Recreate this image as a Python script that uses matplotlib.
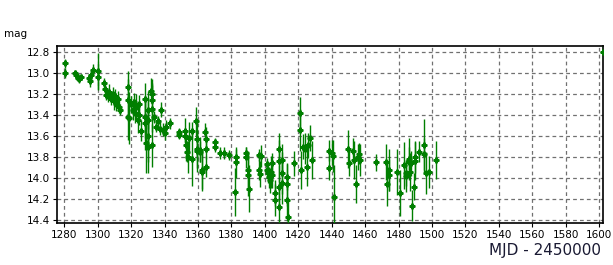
import numpy as np
import matplotlib
matplotlib.use("Agg")
import matplotlib.pyplot as plt

# Light curve: MJD - 2450000, magnitude, error
mjd = [1280.5, 1280.6, 1286.2, 1287.0, 1288.0, 1289.0, 1290.0,
       1295.0, 1295.5, 1296.0, 1297.0, 1300.0, 1300.2,
       1304.0, 1304.3, 1305.0, 1306.0, 1307.0, 1308.0, 1309.0, 1310.0, 1310.5,
       1311.0, 1312.0, 1313.0, 1313.5,
       1318.0, 1318.2, 1318.4, 1318.6,
       1320.0, 1321.0, 1322.0, 1322.5, 1323.0, 1324.0, 1324.5, 1325.0, 1326.0,
       1328.4, 1328.5, 1328.6, 1328.7, 1330.0, 1330.1, 1330.2, 1330.3,
       1332.2, 1332.3, 1332.4, 1332.5, 1332.6,
       1334.0, 1335.0, 1336.0, 1337.0, 1338.0, 1339.0, 1340.0, 1341.0, 1343.0,
       1348.6, 1348.7, 1352.0, 1352.5, 1353.0, 1353.5, 1354.0, 1354.5,
       1356.4, 1356.5, 1359.0, 1359.2, 1359.4, 1359.6, 1361.0, 1361.2,
       1362.5, 1362.7, 1364.5, 1364.6, 1364.7, 1364.8,
       1370.0, 1370.2, 1373.0, 1375.5, 1378.3,
       1382.3, 1382.7, 1383.0, 1388.6, 1388.8, 1390.0, 1390.2, 1390.4,
       1396.6, 1396.8, 1397.0, 1397.5,
       1401.0, 1401.5, 1402.0, 1402.5, 1403.0, 1403.5, 1404.0, 1404.5,
       1406.0, 1406.3, 1408.4, 1408.5, 1408.6, 1408.7, 1410.0, 1410.2, 1410.4,
       1413.3, 1413.4, 1413.5, 1413.6, 1417.5,
       1421.0, 1421.2, 1421.4, 1423.0, 1424.0, 1425.0, 1426.0, 1427.0, 1428.0,
       1438.4, 1438.6, 1440.4, 1440.6, 1441.4,
       1450.0, 1450.2, 1452.9, 1453.1, 1454.5, 1455.5, 1456.2, 1457.0,
       1466.5, 1472.6, 1472.8, 1474.2, 1474.4, 1479.2, 1480.8,
       1483.2, 1484.2, 1484.4, 1486.0, 1486.2, 1487.0, 1487.2,
       1488.2, 1489.2, 1489.8, 1490.0, 1492.2,
       1495.0, 1495.2, 1496.4, 1498.4, 1502.4,
       1602.0]
mag = [12.91, 13.00, 13.00, 13.02, 13.05, 13.06, 13.04,
       13.05, 13.08, 13.02, 12.97, 12.98, 13.04,
       13.10, 13.15, 13.21, 13.22, 13.18, 13.25, 13.20, 13.27, 13.22,
       13.30, 13.25, 13.32, 13.35,
       13.13, 13.26, 13.42, 13.43,
       13.30, 13.35, 13.28, 13.38, 13.32, 13.45, 13.40, 13.30, 13.55,
       13.25, 13.42, 13.48, 13.67, 13.35, 13.45, 13.60, 13.70,
       13.17, 13.20, 13.26, 13.34, 13.69,
       13.42, 13.51, 13.46, 13.53, 13.35, 13.54, 13.57, 13.51, 13.48,
       13.56, 13.59, 13.60, 13.55, 13.69, 13.75, 13.80, 13.62,
       13.55, 13.82, 13.46, 13.63, 13.72, 13.74, 13.73, 13.75,
       13.92, 13.94, 13.56, 13.63, 13.72, 13.89,
       13.66, 13.70, 13.76, 13.76, 13.78,
       14.13, 13.80, 13.85, 13.76, 13.80, 13.92, 13.97, 14.10,
       13.78, 13.92, 13.96, 13.79,
       13.87, 13.92, 13.95, 13.99, 14.02, 13.94, 13.86, 13.97,
       14.14, 14.21, 13.72, 13.84, 14.08, 14.27, 13.83, 13.95, 14.05,
       13.99, 14.06, 14.21, 14.37, 13.86,
       13.38, 13.54, 13.92, 13.70, 13.72, 13.89, 13.69, 13.62, 13.83,
       13.74, 13.90, 13.76, 13.79, 14.18,
       13.72, 13.86, 13.74, 13.83, 14.06, 13.80, 13.77, 13.83,
       13.85, 13.85, 14.06, 13.92, 13.97, 13.94, 14.14,
       13.88, 13.95, 13.98, 13.82, 13.85, 13.94, 13.86,
       14.26, 14.08, 13.84, 13.80, 13.75,
       13.69, 13.77, 13.95, 13.94, 13.83,
       12.80]
err = [0.04, 0.05, 0.03, 0.04, 0.03, 0.04, 0.03,
       0.04, 0.05, 0.05, 0.05, 0.17, 0.12,
       0.05, 0.06, 0.05, 0.06, 0.07, 0.06, 0.07, 0.08, 0.07,
       0.06, 0.08, 0.06, 0.05,
       0.15, 0.20, 0.22, 0.25,
       0.08, 0.10, 0.09, 0.10, 0.12, 0.12, 0.10, 0.09, 0.10,
       0.15, 0.20, 0.25, 0.28, 0.18, 0.22, 0.25, 0.25,
       0.12, 0.10, 0.20, 0.22, 0.20,
       0.06, 0.05, 0.05, 0.06, 0.07, 0.06, 0.07, 0.06, 0.05,
       0.04, 0.04, 0.06, 0.12, 0.15, 0.10, 0.15, 0.15,
       0.08, 0.25, 0.14, 0.18, 0.18, 0.20, 0.12, 0.10,
       0.18, 0.18, 0.08, 0.12, 0.10, 0.10,
       0.04, 0.05, 0.06, 0.06, 0.05,
       0.23, 0.08, 0.15, 0.06, 0.10, 0.18, 0.20, 0.22,
       0.06, 0.10, 0.12, 0.10,
       0.06, 0.08, 0.10, 0.10, 0.12, 0.15, 0.10, 0.12,
       0.12, 0.15, 0.15, 0.20, 0.20, 0.20, 0.15, 0.20, 0.20,
       0.12, 0.20, 0.20, 0.18, 0.12,
       0.15, 0.20, 0.18, 0.12, 0.15, 0.18, 0.12, 0.12, 0.18,
       0.10, 0.12, 0.12, 0.15, 0.30,
       0.18, 0.12, 0.12, 0.18, 0.18, 0.12, 0.10, 0.15,
       0.08, 0.17, 0.20, 0.20, 0.15, 0.22, 0.22,
       0.22, 0.12, 0.15, 0.20, 0.15, 0.18, 0.12,
       0.15, 0.13, 0.18, 0.15, 0.10,
       0.25, 0.15, 0.20, 0.15, 0.18,
       0.08]

xticks = np.arange(1280, 1601, 20)
yticks = [12.8, 13.0, 13.2, 13.4, 13.6, 13.8, 14.0, 14.2, 14.4]

fig = plt.figure(figsize=(6.13, 2.65), dpi=100)
ax = fig.add_axes([0.0925, 0.1585, 0.8915, 0.6665])

ax.errorbar(mjd, mag, yerr=err, fmt='P', color='#007f00', ms=3.5,
            elinewidth=1.0, capsize=0, zorder=3)

ax.set_xlim(1275.5, 1602.4)
ax.set_ylim(14.426, 12.749)
ax.set_xticks(xticks)
ax.set_yticks(yticks)
ax.set_yticklabels(['%.1f' % v for v in yticks])
ax.tick_params(labelsize=7.5, length=3, width=0.8, pad=2)
ax.grid(True, color='#707070', linestyle=(0, (3, 2.5)), linewidth=0.9)
ax.set_axisbelow(True)
for s in ax.spines.values():
    s.set_linewidth(1.2)
    s.set_color('black')

fig.text(0.007, 0.87, 'mag', fontsize=7.5, ha='left', va='center')
fig.text(0.98, 0.055, 'MJD - 2450000', fontsize=11, color='#1a1a33',
         ha='right', va='center')

fig.savefig('out.png', dpi=100)
